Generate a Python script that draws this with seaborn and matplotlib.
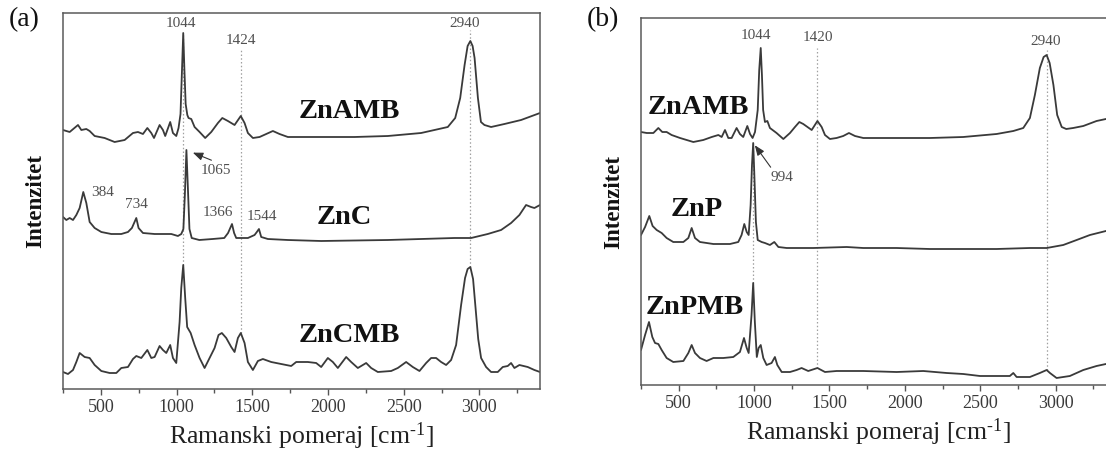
import matplotlib
matplotlib.use("Agg")
import matplotlib.pyplot as plt
from matplotlib.ticker import MultipleLocator
import pandas as pd
import seaborn as sns

# ---------------- Raman spectra (shift in cm^-1, stacked intensity in a.u.) ----------------
# Panel (a)
znamb_a_shift = [250, 294, 349, 371, 404, 426, 459, 525, 591, 657, 712, 745, 778, 807, 833, 851,
                 888, 910, 925, 958, 976, 998, 1013, 1026, 1036, 1044, 1052, 1060, 1071, 1079,
                 1097, 1119, 1152, 1189, 1229, 1273, 1302, 1339, 1383, 1424, 1449, 1471, 1504,
                 1548, 1592, 1636, 1680, 1735, 1955, 2175, 2395, 2615, 2703, 2791, 2840, 2873,
                 2902, 2922, 2940, 2955, 2968, 2990, 3010, 3033, 3077, 3165, 3275, 3400]
znamb_a_int = [259, 257, 264, 259, 260, 258, 253, 251, 247, 249, 256, 257, 255, 261, 256, 251,
               264, 259, 253, 267, 256, 253, 261, 275, 320, 356, 318, 285, 274, 271,
               270, 262, 257, 251, 257, 266, 271, 268, 264, 273, 266, 256, 251,
               252, 255, 258, 255, 252, 252, 252, 253, 256, 259, 262, 271, 291,
               324, 343, 348, 343, 331, 291, 267, 264, 262, 265, 269, 276]

znc_shift = [250, 272, 294, 316, 338, 360, 384, 404, 426, 459, 503, 569, 635, 679, 705, 734,
             749, 778, 855, 899, 965, 1009, 1031, 1045, 1055, 1065, 1075, 1085, 1100, 1150,
             1238, 1315, 1340, 1366, 1380, 1394, 1471, 1515, 1530, 1544, 1559, 1603, 1735,
             1955, 2395, 2835, 2945, 3055, 3143, 3209, 3264, 3308, 3341, 3363, 3400]
znc_int = [172, 169, 171, 169, 174, 181, 197, 186, 167, 161, 157, 155, 155, 157, 161, 171,
           161, 156, 155, 155, 155, 153, 155, 160, 195, 239, 200, 160, 151, 149,
           150, 151, 156, 165, 156, 151, 151, 154, 157, 160, 152, 150, 149,
           148, 149, 151, 151, 155, 159, 166, 174, 184, 182, 181, 184]

zncmb_shift = [250, 283, 316, 338, 360, 393, 426, 459, 503, 558, 602, 635, 679, 712, 734, 767,
               807, 833, 855, 888, 910, 932, 958, 976, 998, 1020, 1031, 1044, 1057, 1070,
               1093, 1119, 1152, 1185, 1218, 1251, 1277, 1299, 1328, 1361, 1383, 1405, 1424,
               1449, 1471, 1504, 1537, 1570, 1625, 1691, 1757, 1790, 1867, 1922, 1955, 1999,
               2032, 2065, 2120, 2153, 2197, 2252, 2285, 2329, 2417, 2461, 2516, 2560, 2604,
               2648, 2681, 2714, 2747, 2780, 2813, 2846, 2879, 2905, 2922, 2940, 2958, 2975,
               2992, 3011, 3044, 3077, 3121, 3154, 3187, 3209, 3231, 3264, 3319, 3363, 3400]
zncmb_int = [17, 15, 19, 27, 36, 32, 31, 24, 18, 16, 16, 21, 22, 30, 33, 31,
             39, 31, 32, 43, 39, 36, 44, 31, 26, 67, 101, 124, 91, 62,
             56, 44, 31, 21, 31, 41, 54, 56, 51, 42, 37, 51, 56,
             46, 27, 19, 28, 30, 27, 25, 23, 27, 27, 26, 22, 31,
             27, 21, 32, 27, 21, 26, 21, 17, 18, 21, 27, 22, 18,
             26, 31, 31, 27, 24, 29, 44, 84, 111, 120, 122, 110, 80,
             50, 31, 22, 17, 17, 22, 23, 26, 21, 24, 22, 19, 17]

# Panel (b)
znamb_b_shift = [250, 288, 332, 365, 391, 420, 453, 509, 597, 663, 719, 763, 785, 807, 829, 851,
                 884, 906, 928, 955, 973, 990, 1006, 1024, 1034, 1044, 1052, 1060, 1072, 1088,
                 1105, 1149, 1194, 1238, 1271, 1300, 1326, 1382, 1420, 1448, 1470, 1503, 1547,
                 1591, 1629, 1669, 1724, 1945, 2166, 2387, 2608, 2719, 2785, 2829, 2862, 2895,
                 2920, 2940, 2960, 2985, 3010, 3040, 3070, 3116, 3183, 3271, 3333, 3400]
znamb_b_int = [253, 252, 252, 257, 253, 253, 250, 247, 243, 245, 248, 250, 248, 255, 247, 247,
               257, 251, 248, 259, 251, 247, 253, 275, 315, 337, 310, 275, 263, 264,
               257, 252, 246, 252, 258, 263, 261, 255, 264, 258, 250, 246, 247,
               249, 252, 249, 247, 247, 247, 248, 251, 254, 257, 267, 290, 317,
               328, 330, 322, 300, 270, 258, 256, 257, 259, 264, 266, 267]

znp_shift = [250, 277, 305, 327, 354, 387, 420, 464, 531, 564, 586, 608, 641, 730, 840, 895,
             917, 935, 951, 964, 977, 986, 994, 1001, 1012, 1024, 1050, 1072, 1105, 1134,
             1161, 1216, 1393, 1614, 1724, 1945, 2166, 2387, 2608, 2829, 2940, 3050, 3139,
             3227, 3333, 3400]
znp_int = [150, 158, 169, 159, 155, 152, 147, 143, 143, 147, 157, 147, 143, 141, 141, 143,
           150, 161, 153, 150, 180, 220, 242, 213, 163, 145, 143, 142, 140, 143,
           138, 137, 137, 138, 137, 137, 136, 136, 136, 137, 137, 140, 145,
           150, 154, 155]

znpmb_shift = [250, 277, 303, 325, 343, 365, 387, 420, 464, 531, 564, 586, 608, 641, 685, 730,
               796, 862, 906, 933, 951, 964, 983, 994, 1005, 1018, 1030, 1044, 1061, 1083,
               1116, 1138, 1154, 1183, 1238, 1282, 1315, 1359, 1420, 1470, 1547, 1724, 1945,
               2122, 2277, 2387, 2498, 2608, 2696, 2719, 2741, 2829, 2895, 2940, 2962, 3006,
               3094, 3183, 3271, 3333, 3400]
znpmb_int = [35, 50, 63, 48, 42, 41, 35, 27, 23, 24, 32, 40, 32, 27, 24, 27,
             27, 28, 33, 47, 37, 32, 70, 102, 63, 28, 37, 40, 27, 20,
             22, 28, 20, 13, 13, 15, 17, 14, 17, 13, 14, 14, 13,
             14, 12, 11, 9, 9, 9, 12, 8, 8, 12, 15, 12, 7,
             9, 15, 19, 21, 22]

x_range = (250, 3400)

# ---------------- tidy frames ----------------
def frame(pairs):
    rows = []
    for name, xs, ys in pairs:
        rows += [{"sample": name, "shift": x, "intensity": y} for x, y in zip(xs, ys)]
    return pd.DataFrame(rows)

df_a = frame([("ZnAMB", znamb_a_shift, znamb_a_int),
              ("ZnC", znc_shift, znc_int),
              ("ZnCMB", zncmb_shift, zncmb_int)])
df_b = frame([("ZnAMB", znamb_b_shift, znamb_b_int),
              ("ZnP", znp_shift, znp_int),
              ("ZnPMB", znpmb_shift, znpmb_int)])

def value_at(xs, ys, x):
    return ys[xs.index(x)]

# ---------------- style ----------------
sns.set_theme(style="white")
plt.rcParams["font.family"] = ["Liberation Serif", "DejaVu Serif"]
plt.rcParams["mathtext.fontset"] = "custom"
plt.rcParams["mathtext.rm"] = "Liberation Serif"
plt.rcParams["mathtext.it"] = "Liberation Serif:italic"
plt.rcParams["mathtext.bf"] = "Liberation Serif:bold"
plt.rcParams["lines.solid_joinstyle"] = "round"

LINE = "#3a3a3a"
DOT = "#a0a0a0"
PEAK_TXT = "#505050"

W, H = 1106, 454
fig = plt.figure(figsize=(W / 100, H / 100), dpi=100)
ax_a = fig.add_axes([63 / W, (H - 389) / H, 477 / W, 376 / H])
ax_b = fig.add_axes([641 / W, (H - 385) / H, 475 / W, 367 / H])


def draw_panel(ax, df, top):
    sns.lineplot(data=df, x="shift", y="intensity", units="sample", estimator=None,
                 sort=False, color=LINE, linewidth=1.3, ax=ax, legend=False)
    ax.set_xlim(*x_range)
    ax.set_ylim(0, top)
    ax.set_yticks([])
    ax.xaxis.set_major_locator(MultipleLocator(500))
    ax.xaxis.set_minor_locator(MultipleLocator(250))
    ax.tick_params(axis="x", which="both", direction="out", bottom=True, top=False,
                   colors="#555555", labelcolor="#3a3a3a", labelsize=13, pad=3)
    ax.tick_params(axis="x", which="major", length=4.5, width=1.0)
    ax.tick_params(axis="x", which="minor", length=3, width=1.0)
    for sp in ax.spines.values():
        sp.set_color("#5a5a5a")
        sp.set_linewidth(1.1)
    ax.set_xlabel(r"Ramanski pomeraj [cm$^{\text{-1}}$]", fontsize=18.5,
                  color="#222222", labelpad=3)
    ax.set_ylabel("Intenzitet", fontsize=16.5, fontweight="bold", color="#111111",
                  labelpad=12)


draw_panel(ax_a, df_a, 376)
draw_panel(ax_b, df_b, 367)

xa = ax_a.get_xaxis_transform()
xb = ax_b.get_xaxis_transform()

# dotted guide lines (bottom end sits on the lowest spectrum)
def guide(ax, x, y_low, top_frac, top_lim):
    ax.axvline(x, ymin=y_low / top_lim, ymax=top_frac, color=DOT, lw=0.9,
               ls=(0, (1.2, 1.8)), zorder=0.5)

guide(ax_a, 1044, value_at(zncmb_shift, zncmb_int, 1044), value_at(znamb_a_shift, znamb_a_int, 1044) / 376, 376)
guide(ax_a, 1424, value_at(zncmb_shift, zncmb_int, 1424), 0.902, 376)
guide(ax_a, 2940, value_at(zncmb_shift, zncmb_int, 2940), 0.955, 376)
guide(ax_b, 994, value_at(znpmb_shift, znpmb_int, 994), value_at(znp_shift, znp_int, 994) / 367, 367)
guide(ax_b, 1420, value_at(znpmb_shift, znpmb_int, 1420), 0.918, 367)
guide(ax_b, 2940, value_at(znpmb_shift, znpmb_int, 2940), 0.913, 367)

# peak labels along the top
pk = dict(fontsize=11, color=PEAK_TXT, ha="center", va="center")
ax_a.text(1030, 0.973, "1044", transform=xa, **pk)
ax_a.text(1424, 0.926, "1424", transform=xa, **pk)
ax_a.text(2905, 0.973, "2940", transform=xa, **pk)
ax_b.text(1010, 0.951, "1044", transform=xb, **pk)
ax_b.text(1420, 0.946, "1420", transform=xb, **pk)
ax_b.text(2930, 0.937, "2940", transform=xb, **pk)

# labels next to individual peaks of ZnC
def peak_note(ax, xs, ys, x, text, dx, dy):
    ax.annotate(text, xy=(x, value_at(xs, ys, x)), xytext=(dx, dy),
                textcoords="offset pixels", **pk)

peak_note(ax_a, znc_shift, znc_int, 384, "384", 19, 0)
peak_note(ax_a, znc_shift, znc_int, 734, "734", 0, 14)
peak_note(ax_a, znc_shift, znc_int, 1366, "1366", -14, 11)
peak_note(ax_a, znc_shift, znc_int, 1544, "1544", 3, 13)

arrow = dict(arrowstyle="-|>,head_length=0.55,head_width=0.22", color="#333333",
             lw=0.8, shrinkA=0, shrinkB=5)
ax_a.annotate("1065", xy=(1065, value_at(znc_shift, znc_int, 1065)), xytext=(30, -20),
              textcoords="offset pixels", arrowprops=dict(arrow, relpos=(0.6, 1.0)), **pk)
ax_b.annotate("994", xy=(994, value_at(znp_shift, znp_int, 994)), xytext=(29, -34),
              textcoords="offset pixels",
              arrowprops=dict(arrow, relpos=(0.1, 1.0), shrinkB=2), **pk)

# sample names
nm = dict(fontsize=20.5, fontweight="bold", color="#111111", ha="center", va="center")
ax_a.text(2143, 278, "ZnAMB", **nm)
ax_a.text(2110, 171, "ZnC", **nm)
ax_a.text(2143, 54, "ZnCMB", **nm)
ax_b.text(628, 278, "ZnAMB", **nm)
ax_b.text(621, 176, "ZnP", **nm)
ax_b.text(608, 78, "ZnPMB", **nm)

# panel letters
fig.text(24 / W, 1 - 20 / H, "(a)", fontsize=20, ha="center", va="center", color="#111111")
fig.text(603 / W, 1 - 20 / H, "(b)", fontsize=20, ha="center", va="center", color="#111111")

fig.savefig("out.png", dpi=100)
